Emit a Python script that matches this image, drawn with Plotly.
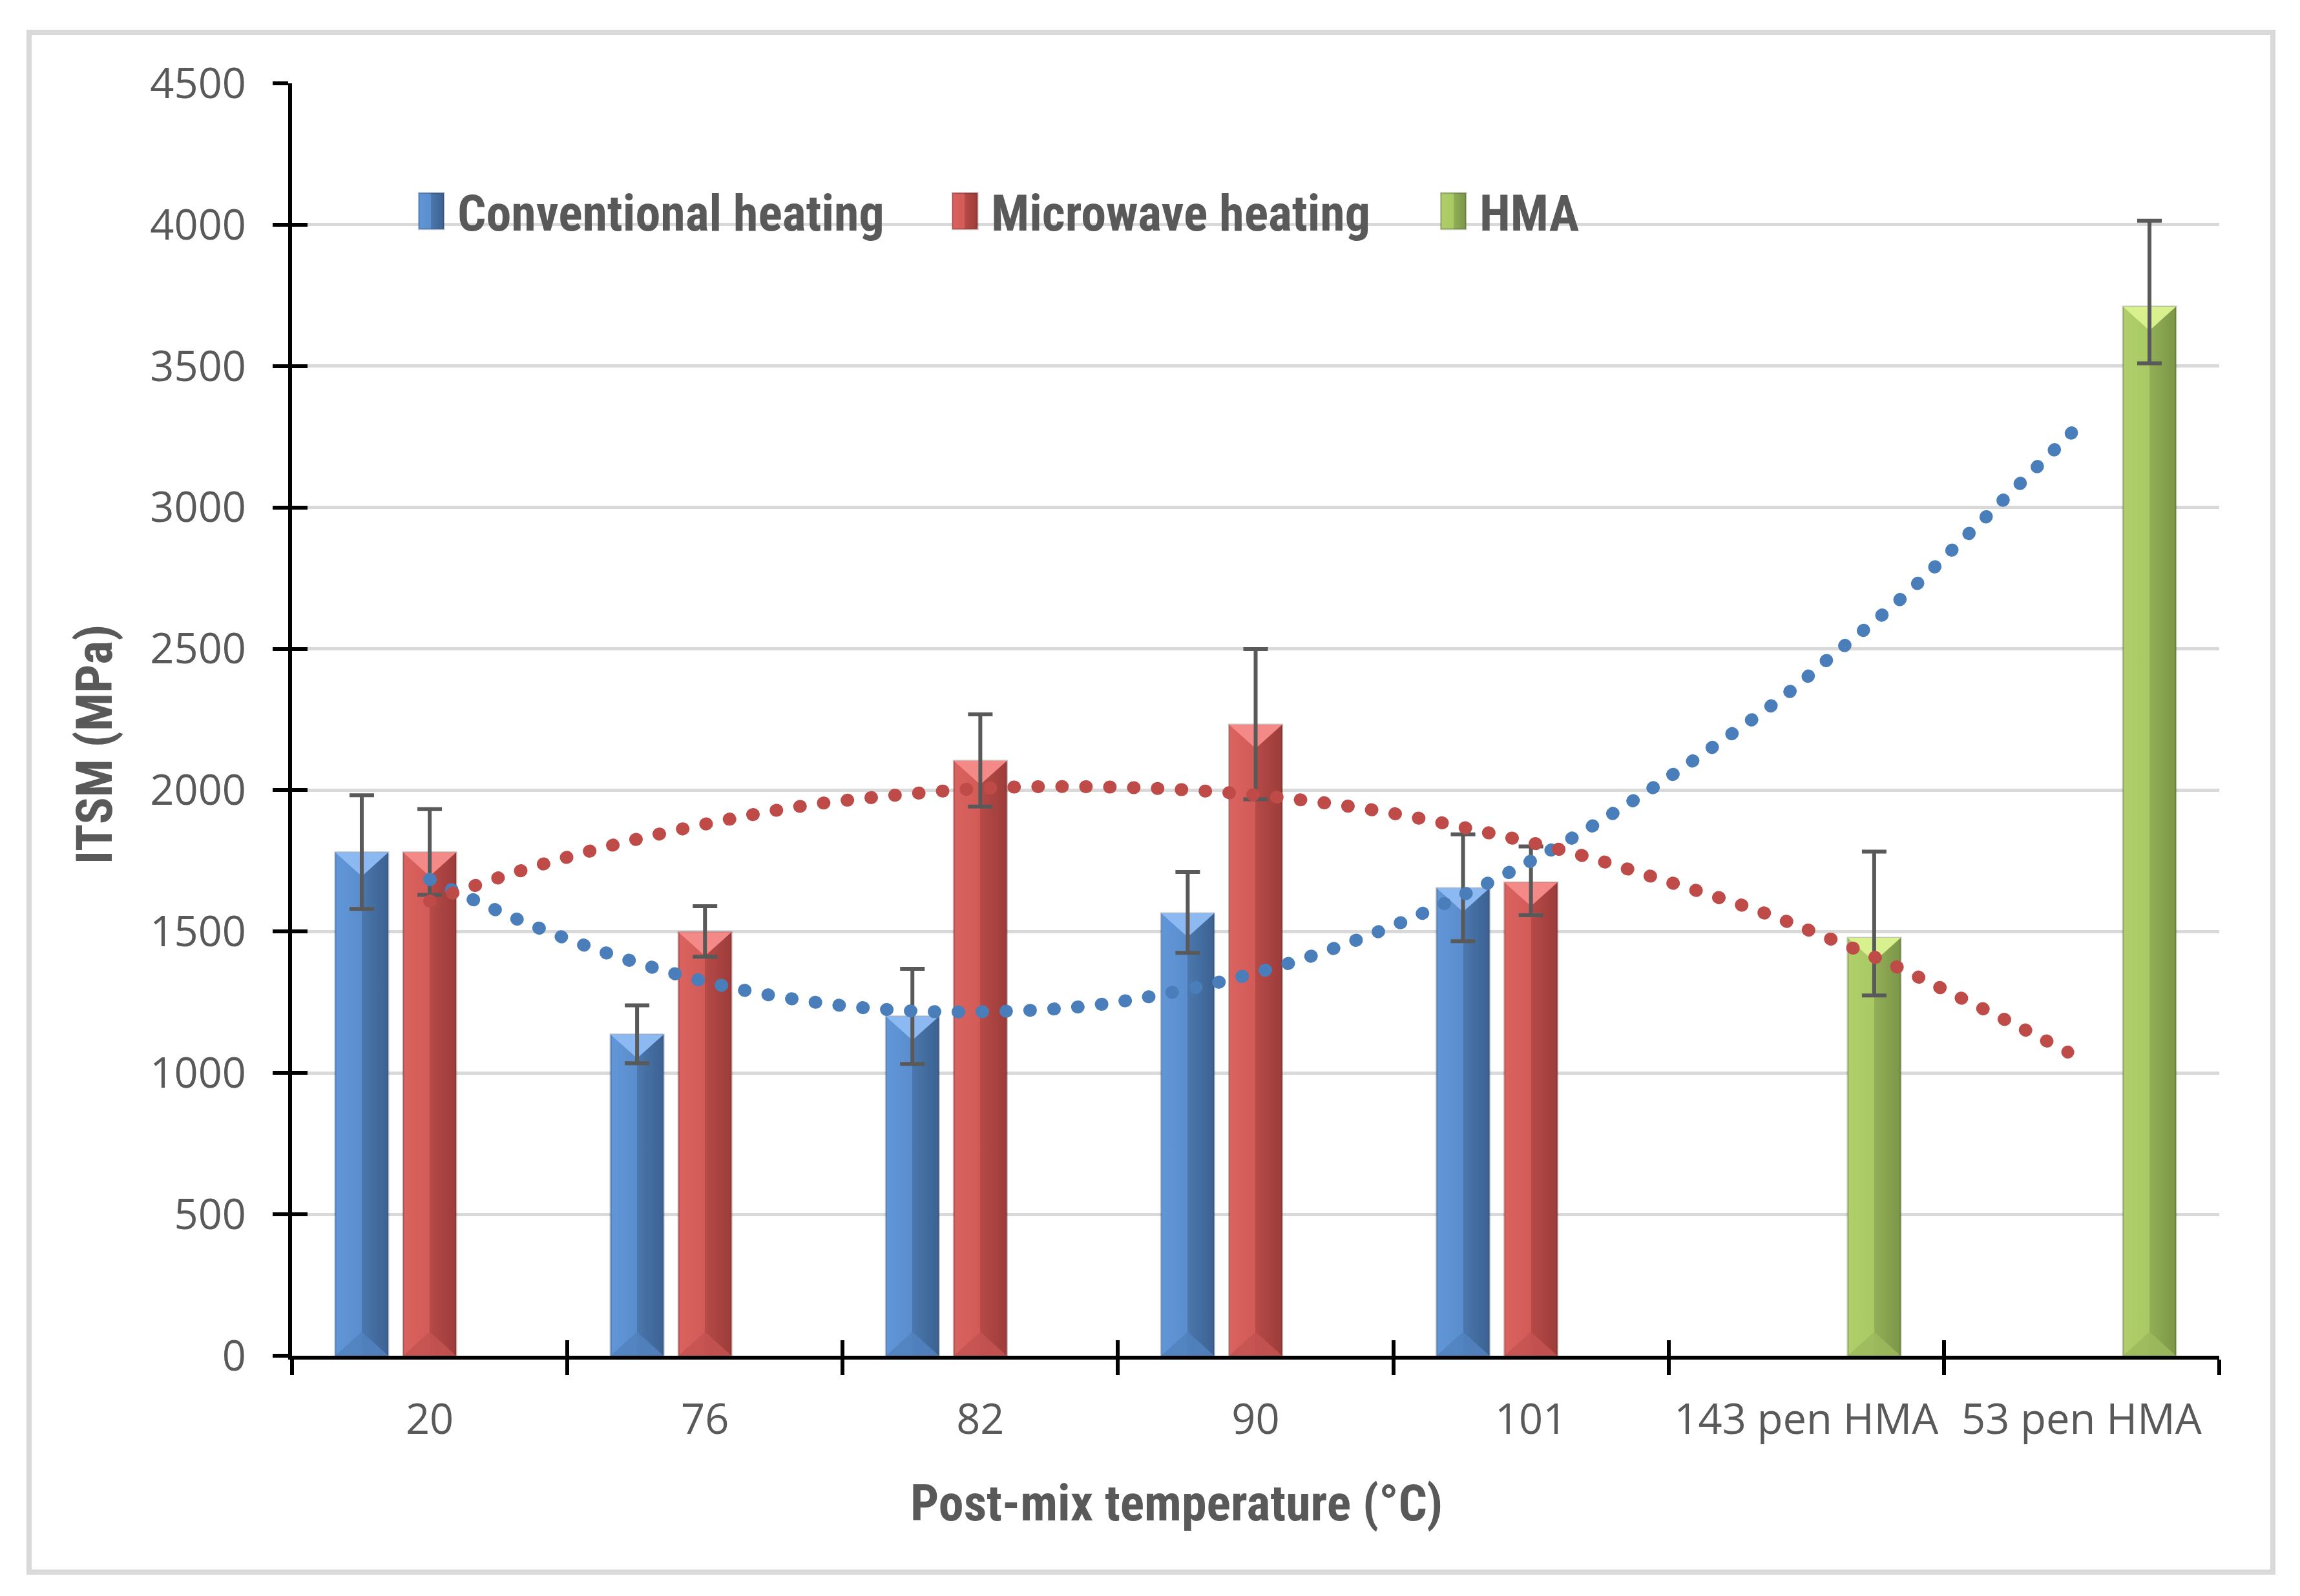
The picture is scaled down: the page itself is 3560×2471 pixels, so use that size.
import plotly.graph_objects as go

# ---------------- data ----------------
categories = ["20", "76", "82", "90", "101", "143 pen HMA", "53 pen HMA"]

conv_vals = [1780, 1136, 1200, 1565, 1654, None, None]
conv_err_plus = [202, 103, 168, 146, 190, None, None]
conv_err_minus = [200, 102, 168, 140, 188, None, None]

micro_vals = [1780, 1498, 2104, 2232, 1674, None, None]
micro_err_plus = [153, 92, 164, 267, 127, None, None]
micro_err_minus = [150, 87, 162, 264, 116, None, None]

hma_vals = [None, None, None, None, None, 1478, 3710]
hma_err_plus = [None, None, None, None, None, 305, 304]
hma_err_minus = [None, None, None, None, None, 204, 200]

# dotted trend curves (category index, value)
blue_trend_x = [0.0, 0.32, 0.65, 0.99, 1.33, 1.68, 2.03, 2.39, 2.73, 3.08,
                3.41, 3.73, 4.05, 4.35, 4.64, 4.93, 5.07, 5.34, 5.59, 5.97]
blue_trend_y = [1685, 1543, 1422, 1326, 1260, 1223, 1217, 1237, 1292, 1376,
                1486, 1619, 1776, 1950, 2139, 2341, 2456, 2674, 2907, 3270]

red_trend_x = [0.0, 0.33, 0.67, 1.02, 1.36, 1.71, 2.06, 2.42, 2.77, 3.12,
               3.47, 3.81, 4.16, 4.49, 4.83, 5.07, 5.32, 5.55, 5.79, 5.95]
red_trend_y = [1608, 1715, 1807, 1884, 1945, 1984, 2009, 2012, 2000, 1971,
               1923, 1857, 1776, 1679, 1572, 1481, 1379, 1271, 1155, 1074]

y_ticks = [0, 500, 1000, 1500, 2000, 2500, 3000, 3500, 4000, 4500]

# ---------------- styling ----------------
TXT = "#595959"
TICK_FONT = dict(family="Open Sans, Noto Sans, sans-serif", size=65, color=TXT)
BOLD_FONT = "Liberation Sans Narrow, Arial Narrow, Roboto Condensed, Roboto, sans-serif"

W, H = 3560, 2471
L, R, T, B = 452, 125, 129, 372
PW, PH = W - L - R, H - T - B


def px_x(p):
    return (p - L) / PW


def px_y(p):
    return (H - B - p) / PH


def err(plus, minus):
    return dict(type="data", array=plus, arrayminus=minus, symmetric=False,
                color="#595959", thickness=6, width=19, visible=True)


fig = go.Figure()
fig.add_trace(go.Bar(
    name="Conventional heating", x=categories, y=conv_vals, legend="legend",
    marker=dict(color="#5584c3", line=dict(color="rgba(40,60,90,0.30)", width=3)),
    error_y=err(conv_err_plus, conv_err_minus),
))
fig.add_trace(go.Bar(
    name="Microwave heating", x=categories, y=micro_vals, legend="legend2",
    marker=dict(color="#c9524f", line=dict(color="rgba(90,30,30,0.30)", width=3)),
    error_y=err(micro_err_plus, micro_err_minus),
))
fig.add_trace(go.Bar(
    name="HMA", x=categories, y=hma_vals, legend="legend3",
    marker=dict(color="#a0c05e", line=dict(color="rgba(60,80,30,0.30)", width=3)),
    error_y=err(hma_err_plus, hma_err_minus),
))

dot = "1px,36px"
fig.add_trace(go.Scatter(
    x=blue_trend_x, y=blue_trend_y, mode="lines", xaxis="x2", yaxis="y2",
    line=dict(color="#4a7ebb", width=20, dash=dot, shape="spline"),
    showlegend=False, hoverinfo="skip",
))
fig.add_trace(go.Scatter(
    x=red_trend_x, y=red_trend_y, mode="lines", xaxis="x2", yaxis="y2",
    line=dict(color="#be4b48", width=20, dash=dot, shape="spline"),
    showlegend=False, hoverinfo="skip",
))


def legend_at(text_start_px):
    return dict(
        orientation="h", x=px_x(text_start_px - 61), xanchor="left",
        y=px_y(327), yanchor="middle",
        font=dict(family=BOLD_FONT, size=78, color=TXT, weight="bold"),
        bgcolor="rgba(0,0,0,0)", itemwidth=51,
    )


fig.update_layout(
    width=W, height=H,
    margin=dict(l=L, r=R, t=T, b=B, autoexpand=False),
    paper_bgcolor="white", plot_bgcolor="white",
    barmode="group", bargap=0.26, bargroupgap=0.22,
    showlegend=True,
    legend=legend_at(708),
    legend2=legend_at(1534),
    legend3=legend_at(2290),
    xaxis=dict(
        type="category", range=[-0.5, 6.5], tickson="boundaries",
        ticks="outside", ticklen=24, tickwidth=6, tickcolor="black",
        showline=True, linewidth=6, linecolor="black", showgrid=False,
        tickfont=TICK_FONT, ticklabelstandoff=37,
    ),
    xaxis2=dict(
        type="linear", overlaying="x", anchor="y2", side="bottom", range=[-0.5, 6.5],
        tickmode="array", tickvals=[-0.5, 0.5, 1.5, 2.5, 3.5, 4.5, 5.5, 6.5],
        ticks="inside", ticklen=24, tickwidth=6, tickcolor="black",
        showticklabels=False, showgrid=False, zeroline=False, showline=False,
    ),
    yaxis=dict(
        range=[0, 4500], tickmode="array", tickvals=y_ticks,
        ticks="outside", ticklen=24, tickwidth=6, tickcolor="black",
        showline=True, linewidth=6, linecolor="black",
        showgrid=True, gridcolor="#d9d9d9", gridwidth=5, zeroline=False,
        tickfont=TICK_FONT, ticklabelstandoff=28,
    ),
    yaxis2=dict(
        range=[0, 4500], overlaying="y", anchor="x2", side="left",
        tickmode="array", tickvals=y_ticks,
        ticks="inside", ticklen=24, tickwidth=6, tickcolor="black",
        showticklabels=False, showgrid=False, zeroline=False, showline=False,
    ),
    annotations=[
        dict(text="<b>ITSM (MPa)</b>", xref="paper", yref="paper",
             x=px_x(146), y=px_y(1153), textangle=-90, showarrow=False,
             xanchor="center", yanchor="middle",
             font=dict(family=BOLD_FONT, size=78, color=TXT)),
        dict(text="<b>Post-mix temperature (°C)</b>", xref="paper", yref="paper",
             x=px_x(1821), y=px_y(2327), showarrow=False,
             xanchor="center", yanchor="middle",
             font=dict(family=BOLD_FONT, size=78, color=TXT)),
    ],
    shapes=[
        dict(type="rect", xref="paper", yref="paper", layer="below",
             x0=px_x(45), x1=px_x(3518), y0=px_y(2434), y1=px_y(50),
             line=dict(color="#d9d9d9", width=8), fillcolor="rgba(0,0,0,0)"),
    ],
)

post = """
(function(){
  document.body.style.margin = '0';
  document.body.style.overflow = 'hidden';
  var gd = document.getElementById('{plot_id}');
  var ns = 'http://www.w3.org/2000/svg';
  var cols = [
    ['#6097d9', '#5a8dcd', '#4a77ad', '#3c6292'],
    ['#da625f', '#d25a57', '#b64a47', '#9c3c3a'],
    ['#b0cf6c', '#a8c964', '#92af57', '#7b9647']
  ];
  var tops = ['#8cb9f2', '#f48a87', '#d9f08e'];
  var bots = ['#5282bf', '#c45451', '#9dba5d'];
  function fix(){
    var svg = gd.querySelector('svg.main-svg');
    if (!svg) return;
    var defs = svg.querySelector('defs');
    if (!defs) { defs = document.createElementNS(ns, 'defs'); svg.insertBefore(defs, svg.firstChild); }
    cols.forEach(function(c, i){
      if (!document.getElementById('bevgrad' + i)) {
        var g = document.createElementNS(ns, 'linearGradient');
        g.setAttribute('id', 'bevgrad' + i);
        g.setAttribute('x1', '0'); g.setAttribute('x2', '1');
        g.setAttribute('y1', '0'); g.setAttribute('y2', '0');
        [[0, c[0]], [0.5, c[1]], [0.5, c[2]], [1, c[3]]].forEach(function(s){
          var st = document.createElementNS(ns, 'stop');
          st.setAttribute('offset', s[0]);
          st.setAttribute('stop-color', s[1]);
          g.appendChild(st);
        });
        defs.appendChild(g);
      }
    });
    gd.querySelectorAll('.bevtri').forEach(function(e){ e.remove(); });
    gd.querySelectorAll('.barlayer .trace').forEach(function(t, i){
      var k = i % 3;
      t.querySelectorAll('.point path').forEach(function(p){
        p.style.fill = 'url(#bevgrad' + k + ')';
        var bb;
        try { bb = p.getBBox(); } catch (e) { return; }
        if (!bb || bb.width <= 0 || bb.height <= 0) return;
        var w = bb.width, hh = Math.min(w * 0.45, bb.height / 2);
        var tri = document.createElementNS(ns, 'polygon');
        tri.setAttribute('class', 'bevtri');
        tri.setAttribute('points', bb.x + ',' + bb.y + ' ' + (bb.x + w) + ',' + bb.y + ' ' + (bb.x + w / 2) + ',' + (bb.y + hh));
        tri.setAttribute('fill', tops[k]);
        p.parentNode.appendChild(tri);
        var tri2 = document.createElementNS(ns, 'polygon');
        tri2.setAttribute('class', 'bevtri');
        var yb = bb.y + bb.height;
        tri2.setAttribute('points', bb.x + ',' + yb + ' ' + (bb.x + w) + ',' + yb + ' ' + (bb.x + w / 2) + ',' + (yb - hh));
        tri2.setAttribute('fill', bots[k]);
        tri2.setAttribute('fill-opacity', '0.85');
        p.parentNode.appendChild(tri2);
      });
    });
    gd.querySelectorAll('.legendpoints path').forEach(function(p, i){
      p.setAttribute('d', 'M9.5,28H-29.5V-28H9.5Z');
      p.style.fill = 'url(#bevgrad' + (i % 3) + ')';
    });
    gd.querySelectorAll('.scatterlayer path.js-line').forEach(function(p){
      p.style.strokeLinecap = 'round';
      p.setAttribute('stroke-linecap', 'round');
    });
  }
  fix();
  gd.on('plotly_afterplot', fix);
})();
"""

fig.write_html("out.html", post_script=post, config={"displayModeBar": False})
